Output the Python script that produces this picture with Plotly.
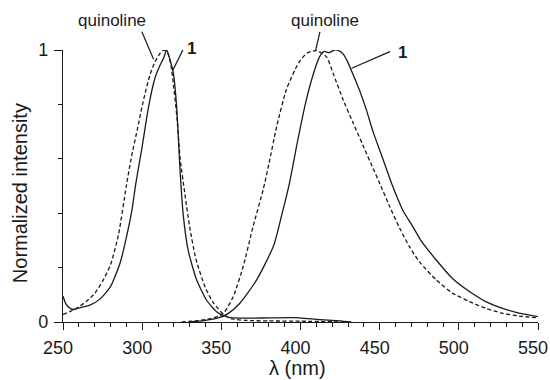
import plotly.graph_objects as go

# Absorption (excitation) spectra
abs_q_wl = [250, 255, 260, 265, 270, 275, 280, 285, 290, 293, 297, 301, 305, 308, 311, 313.5, 316, 318, 320, 322, 324, 327, 330, 334, 340, 345, 351, 356, 365, 380, 400, 430]
abs_q_i = [0.028, 0.04, 0.056, 0.077, 0.105, 0.15, 0.21, 0.32, 0.50, 0.60, 0.71, 0.82, 0.91, 0.955, 0.985, 1.0, 0.99, 0.95, 0.86, 0.75, 0.60, 0.47, 0.35, 0.23, 0.125, 0.07, 0.03, 0.012, 0.006, 0.004, 0.003, 0.0]

abs_1_wl = [250, 252, 254.5, 257, 261, 267, 273.5, 280, 286, 290, 293.5, 296, 300, 304, 308, 311, 313.5, 315.5, 317.5, 319.7, 321.8, 324, 326, 329, 334.4, 340.7, 347, 352, 356, 365, 380, 395, 410, 425, 432]
abs_1_i = [0.095, 0.065, 0.05, 0.046, 0.053, 0.062, 0.085, 0.13, 0.216, 0.31, 0.41, 0.51, 0.645, 0.79, 0.895, 0.94, 0.97, 1.0, 0.965, 0.915, 0.79, 0.55, 0.39, 0.265, 0.155, 0.08, 0.038, 0.022, 0.016, 0.014, 0.015, 0.016, 0.01, 0.004, 0.0]

# Emission spectra
em_q_wl = [325, 335, 343, 351, 357.5, 363.8, 370, 376.4, 380, 385, 391, 396.4, 400, 404, 410, 416.4, 420.6, 427, 433, 439.4, 445.8, 450, 456.3, 462.6, 469, 475, 485.7, 496, 506.7, 517, 527.7, 538, 550]
em_q_i = [0.0, 0.005, 0.012, 0.03, 0.093, 0.204, 0.35, 0.486, 0.58, 0.72, 0.853, 0.926, 0.963, 0.988, 0.998, 0.975, 0.914, 0.816, 0.735, 0.65, 0.565, 0.51, 0.425, 0.345, 0.275, 0.222, 0.155, 0.106, 0.075, 0.05, 0.032, 0.022, 0.015]

em_1_wl = [330, 340, 348, 354, 361.7, 372.3, 383, 388, 393, 398, 403, 408, 412, 415, 418, 421.5, 425, 427, 429.5, 433.2, 437.4, 441.6, 445.8, 452, 457.5, 464.7, 471, 476, 485.7, 496, 506.7, 517, 527.7, 538, 550]
em_1_i = [0.0, 0.006, 0.015, 0.03, 0.069, 0.155, 0.28, 0.39, 0.51, 0.66, 0.80, 0.91, 0.975, 0.995, 0.99, 1.0, 0.995, 0.985, 0.96, 0.91, 0.85, 0.78, 0.70, 0.60, 0.51, 0.41, 0.35, 0.30, 0.228, 0.16, 0.112, 0.075, 0.05, 0.033, 0.02]

# Labels in data units: (text, text_x, text_y, line_x0, line_y0, line_x1, line_y1, bold)
labels = [
    ("quinoline", 280.8, 1.107, 299.8, 1.067, 307.2, 0.966, False),
    ("1", 331.4, 1.007, 325.7, 1.0, 319.4, 0.926, True),
    ("quinoline", 415.5, 1.107, 412.3, 1.067, 409.6, 1.0, False),
    ("1", 464.3, 0.989, 456.5, 0.994, 432.3, 0.933, True),
]

x_ticks = [250, 300, 350, 400, 450, 500, 550]
y_ticks = [0, 1]
X_RANGE = [250, 550]
Y_RANGE = [0, 1]
x_title = "λ (nm)"
y_title = "Normalized intensity"

FONT = "Liberation Sans, Arial, sans-serif"
INK = "#1a1a1a"


def px_(v):
    return (v - X_RANGE[0]) / (X_RANGE[1] - X_RANGE[0])


def py_(v):
    return (v - Y_RANGE[0]) / (Y_RANGE[1] - Y_RANGE[0])


fig = go.Figure()
for wl, inten, dash in [
    (abs_q_wl, abs_q_i, "4px,2.5px"),
    (abs_1_wl, abs_1_i, "solid"),
    (em_q_wl, em_q_i, "4px,2.5px"),
    (em_1_wl, em_1_i, "solid"),
]:
    fig.add_trace(go.Scatter(
        x=wl, y=inten, mode="lines", cliponaxis=False,
        line=dict(color=INK, width=1.3, dash=dash, shape="spline", smoothing=0.6),
        showlegend=False, hoverinfo="skip",
    ))

for text, tx, ty, x0, y0, x1, y1, bold in labels:
    fig.add_shape(type="line", x0=px_(x0), y0=py_(y0), x1=px_(x1), y1=py_(y1),
                  xref="paper", yref="paper", line=dict(color=INK, width=1.2))
    fig.add_annotation(x=px_(tx), y=py_(ty), xref="paper", yref="paper", showarrow=False,
                       xanchor="center", yanchor="middle",
                       text=f"<b>{text}</b>" if bold else text,
                       font=dict(family=FONT, size=17, color=INK))

# axis titles
fig.add_annotation(x=0.4927, y=-0.170, xref="paper", yref="paper", showarrow=False,
                   xanchor="center", yanchor="middle", text=x_title,
                   font=dict(family=FONT, size=20, color=INK))
fig.add_annotation(x=-0.0915, y=0.472, xref="paper", yref="paper", showarrow=False,
                   xanchor="center", yanchor="middle", textangle=-90, text=y_title,
                   font=dict(family=FONT, size=20, color=INK))

fig.update_layout(
    width=550, height=380,
    margin=dict(l=63, r=12, t=50, b=58, autoexpand=False),
    paper_bgcolor="white", plot_bgcolor="white",
    font=dict(family=FONT, color=INK),
)
fig.update_xaxes(
    range=X_RANGE, tickvals=x_ticks, ticktext=[str(v) for v in x_ticks],
    showline=True, linecolor=INK, linewidth=1.3, showgrid=False, zeroline=False,
    automargin=False, ticklabelshift=-5, ticklabelstandoff=2, ticklabeloverflow="allow",
    ticks="outside", ticklen=7, tickwidth=1.3, tickcolor=INK,
    tickfont=dict(family=FONT, size=18, color=INK),
    minor=dict(dtick=10, tick0=250, ticks="outside", ticklen=4, tickwidth=1.1, tickcolor=INK, showgrid=False),
)
fig.update_yaxes(
    range=Y_RANGE, tickvals=y_ticks, ticktext=["0", "1"],
    showline=True, linecolor=INK, linewidth=1.3, showgrid=False, zeroline=False,
    automargin=False, ticklabelstandoff=2,
    ticks="outside", ticklen=8, tickwidth=1.3, tickcolor=INK,
    tickfont=dict(family=FONT, size=18, color=INK),
    minor=dict(dtick=0.2, tick0=0, ticks="outside", ticklen=4, tickwidth=1.1, tickcolor=INK, showgrid=False),
)

fig.write_html("out.html")
